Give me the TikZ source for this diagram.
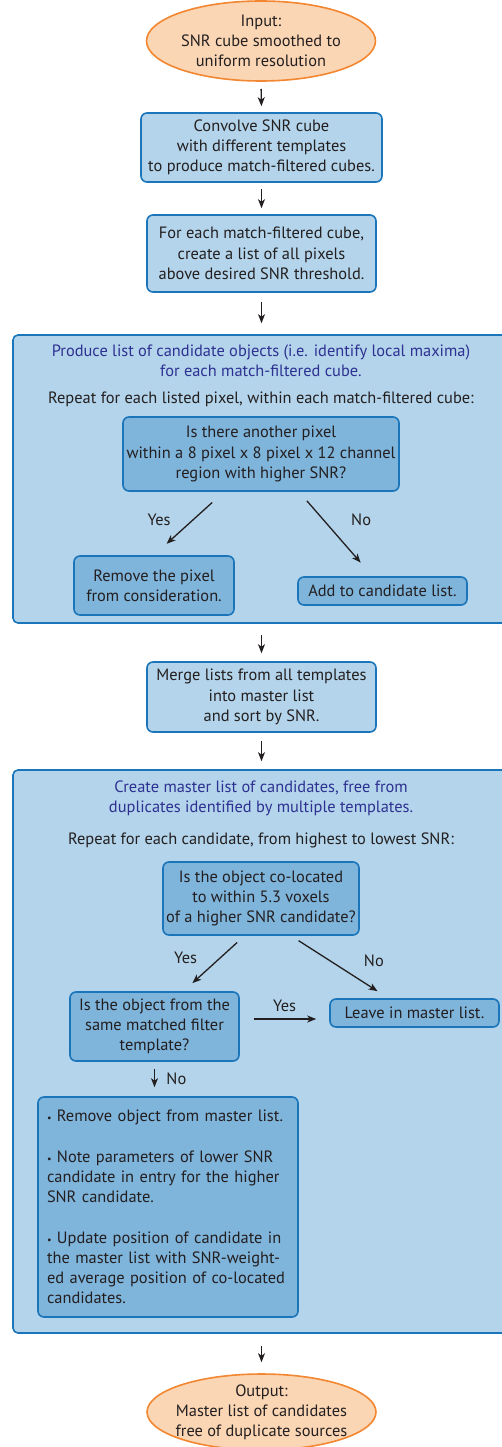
\documentclass[tikz,border=0pt]{standalone}
\usepackage{fontspec}
\setmainfont{PT Sans}
\usetikzlibrary{shapes.geometric, arrows.meta}

\definecolor{paleblue}{RGB}{179,212,234}
\definecolor{midblue}{RGB}{127,180,219}
\definecolor{edgeblue}{RGB}{27,117,187}
\definecolor{paleorange}{RGB}{251,214,180}
\definecolor{edgeorange}{RGB}{243,134,48}
\definecolor{titleblue}{RGB}{46,49,146}
\definecolor{ink}{RGB}{35,31,32}

\begin{document}
\begin{tikzpicture}[x=1pt, y=-1pt,
    every node/.style={font=\fontsize{16.4}{20.2}\selectfont, text=ink},
    io/.style={ellipse, draw=edgeorange, fill=paleorange, line width=1.6pt, inner xsep=-8pt, inner ysep=-2pt, align=center},
    stepbox/.style={rectangle, draw=edgeblue, fill=paleblue, line width=1.6pt, rounded corners=6pt, inner sep=0pt, align=center},
    askbox/.style={stepbox, fill=midblue},
    group/.style={rectangle, draw=edgeblue, fill=paleblue, line width=1.6pt, rounded corners=5pt, inner sep=0pt},
    head/.style={align=center, text=titleblue},
    arrow/.style={-{Stealth[length=9pt, width=7pt, inset=2.5pt]}, line width=1.3pt, draw=ink},
]
\useasboundingbox (0,0) rectangle (502,1447);

% main column
\node[io, minimum width=229pt, minimum height=80pt] (in) at (261,41) {Input:\\SNR cube smoothed to\\uniform resolution};
\node[stepbox, minimum width=241pt, minimum height=69pt] (conv) at (261.5,147.5) {Convolve SNR cube\\with different templates\\to produce match-filtered cubes.};
\node[stepbox, minimum width=229pt, minimum height=77pt] (list) at (261.5,253.5) {For each match-filtered cube,\\create a list of all pixels\\above desired SNR threshold.};

% first group: local maxima
\node[group, minimum width=502pt, minimum height=288pt] (grp1) at (264,479) {};
\node[head] (title1) at (261,361) {Produce list of candidate objects (i.e. identify local maxima)\\for each match-filtered cube.};
\node (rep1) at (261,399) {Repeat for each listed pixel, within each match-filtered cube:};
\node[askbox, minimum width=276pt, minimum height=74pt] (q1) at (261,454) {Is there another pixel\\within a 8 pixel x 8 pixel x 12 channel\\region with higher SNR?};
\node[askbox, minimum width=160pt, minimum height=59pt] (rm) at (154,585.5) {Remove the pixel\\from consideration.};
\node[askbox, minimum width=169pt, minimum height=28pt] (add) at (382.5,591) {Add to candidate list.};

\node[stepbox, minimum width=229pt, minimum height=70pt] (merge) at (261.5,697) {Merge lists from all templates\\into master list\\and sort by SNR.};

% second group: duplicates
\node[group, minimum width=502pt, minimum height=563pt] (grp2) at (264,1051.5) {};
\node[head] (title2) at (261,798) {Create master list of candidates, free from\\duplicates identified by multiple templates.};
\node (rep2) at (261,840) {Repeat for each candidate, from highest to lowest SNR:};
\node[askbox, minimum width=196pt, minimum height=73pt] (q2) at (261,898.5) {Is the object co-located\\to within 5.3 voxels\\of a higher SNR candidate?};
\node[askbox, minimum width=169pt, minimum height=69pt] (tmpl) at (154.5,1026.5) {Is the object from the\\same matched filter\\template?};
\node[askbox, minimum width=169pt, minimum height=28pt] (leave) at (414.5,1013) {Leave in master list.};
\node[askbox, minimum width=260pt, minimum height=220pt, text width=242pt, align=left] (notes) at (168,1207) {%
{\fontsize{10}{10}\selectfont\textbullet} Remove object from master list.\\[20.2pt]
{\fontsize{10}{10}\selectfont\textbullet} Note parameters of lower SNR\\candidate in entry for the higher\\SNR candidate.\\[20.2pt]
{\fontsize{10}{10}\selectfont\textbullet} Update position of candidate in\\the master list with SNR-weight-\\ed average position of co-located\\candidates.};

\node[io, minimum width=229pt, minimum height=76pt] (out) at (261.5,1412) {Output:\\Master list of candidates\\free of duplicate sources};

% connectors
\draw[arrow, shorten <=7pt, shorten >=6pt] (in.south) -- (conv.north);
\draw[arrow, shorten <=6pt, shorten >=6pt] (conv.south) -- (list.north);
\draw[arrow, shorten <=9pt, shorten >=11pt] (list.south) -- (list.south |- grp1.north);
\draw[arrow, shorten <=16pt, shorten >=17pt] ([xshift=-37pt]q1.south) -- (rm.north) node[pos=0.45, left=18pt] {Yes};
\draw[arrow, shorten <=12pt, shorten >=18pt] ([xshift=38pt]q1.south) -- ([xshift=-10pt]add.north) node[pos=0.33, right=24pt] {No};
\draw[arrow, shorten <=11pt, shorten >=8pt] (merge.north |- grp1.south) -- (merge.north);
\draw[arrow, shorten <=8pt, shorten >=8pt] (merge.south) -- (merge.south |- grp2.north);
\draw[arrow, shorten <=10pt, shorten >=12pt] ([xshift=-16.5pt]q2.south) -- ([xshift=29pt]tmpl.north) node[pos=0.4, left=19pt] {Yes};
\draw[arrow, shorten <=9pt, shorten >=13pt] ([xshift=30pt]q2.south) -- ([xshift=-26pt]leave.north) node[pos=0.4, right=30pt] {No};
\draw[arrow, shorten <=14pt, shorten >=13pt] ([yshift=7.5pt]tmpl.east) -- ([yshift=-6pt]leave.west) node[midway, above=3pt] {Yes};
\draw[arrow, shorten <=7pt, shorten >=9pt] (tmpl.south) -- (tmpl.south |- notes.north) node[midway, right=8pt] {No};
\draw[arrow, shorten <=12pt, shorten >=11pt] (out.north |- grp2.south) -- (out.north);
\end{tikzpicture}
\end{document}
